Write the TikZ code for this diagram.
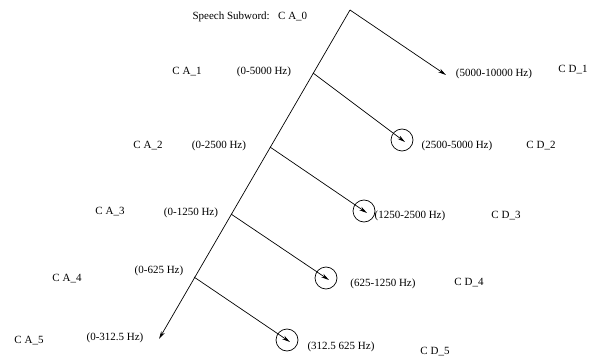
\documentclass[tikz,border=0pt]{standalone}
\usepackage{fontspec}
\setmainfont{Liberation Serif}
\usetikzlibrary{arrows.meta}
\begin{document}
\begin{tikzpicture}[x=1pt,y=-1pt,
  lbl/.style={inner sep=0pt,font=\fontsize{11}{12}\selectfont},
  ring/.style={draw,circle,inner sep=0pt,minimum size=22pt,line width=0.7pt},
  conn/.style={line width=0.7pt},
  arr/.style={line width=0.7pt,-{Stealth[length=8pt,width=4pt]}}]
\useasboundingbox (0,0) rectangle (594,358);
% main tree
\coordinate (top) at (350,10);
\coordinate (lend) at (159,339);
\coordinate (rend) at (446,75);
\coordinate (b1) at (313,73);
\coordinate (b2) at (270,147);
\coordinate (b3) at (231,214);
\coordinate (b4) at (194,277);
\node[ring] (c1) at (402,140) {};
\node[ring] (c2) at (364,211) {};
\node[ring] (c3) at (326,278) {};
\node[ring] (c4) at (287,340) {};
\coordinate (t1) at (405,142);
\coordinate (t2) at (367,213);
\coordinate (t3) at (329,280);
\coordinate (t4) at (290,342);
\draw[arr] (top) -- (lend);
\draw[arr] (top) -- (rend);
\draw[arr] (b1) -- (t1);
\draw[arr] (b2) -- (t2);
\draw[arr] (b3) -- (t3);
\draw[arr] (b4) -- (t4);
% labels
\node[lbl,anchor=east] (sp) at (270,17) {Speech Subword:};
\node[lbl,anchor=west] (ca0) at (278,17) {C A\_0};
\node[lbl] (ca1) at (187,72) {C A\_1};
\node[lbl] (f1) at (264,72) {(0-5000 Hz)};
\node[lbl] (h1) at (494,74) {(5000-10000 Hz)};
\node[lbl] (cd1) at (573,70) {C D\_1};
\node[lbl] (ca2) at (148,146) {C A\_2};
\node[lbl] (f2) at (219,146) {(0-2500 Hz)};
\node[lbl] (h2) at (457,146) {(2500-5000 Hz)};
\node[lbl] (cd2) at (541,146) {C D\_2};
\node[lbl] (ca3) at (110,212) {C A\_3};
\node[lbl] (f3) at (191,213) {(0-1250 Hz)};
\node[lbl] (h3) at (410,216) {(1250-2500 Hz)};
\node[lbl] (cd3) at (506,216) {C D\_3};
\node[lbl] (ca4) at (67,279) {C A\_4};
\node[lbl] (f4) at (159,271) {(0-625 Hz)};
\node[lbl] (h4) at (383,284) {(625-1250 Hz)};
\node[lbl] (cd4) at (469,283) {C D\_4};
\node[lbl] (ca5) at (29,341) {C A\_5};
\node[lbl] (f5) at (115,338) {(0-312.5 Hz)};
\node[lbl] (h5) at (341,347) {(312.5 625 Hz)};
\node[lbl] (cd5) at (435,352) {C D\_5};
\end{tikzpicture}
\end{document}
